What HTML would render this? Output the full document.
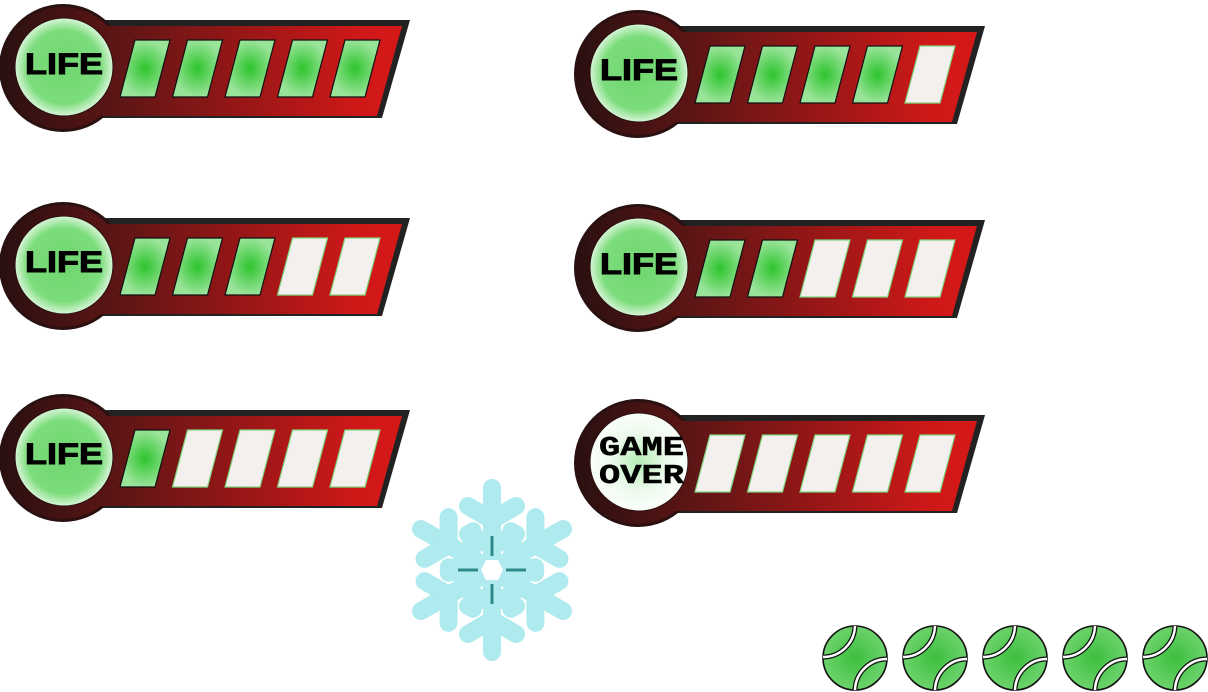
<!DOCTYPE html>
<html><head><meta charset="utf-8"><style>
html,body{margin:0;padding:0;background:#fff;width:1208px;height:692px;overflow:hidden}
svg{display:block}
</style></head><body>
<svg id="s" width="1208" height="692" viewBox="0 0 1208 692" xmlns="http://www.w3.org/2000/svg">
<defs>
<linearGradient id="band" gradientUnits="userSpaceOnUse" x1="0" x2="400" y1="0" y2="0">
<stop offset="0" stop-color="#2a1010"/><stop offset="0.3" stop-color="#5e1515"/><stop offset="0.9" stop-color="#d01818"/><stop offset="1" stop-color="#d41818"/>
</linearGradient>
<radialGradient id="lifeg"><stop offset="0" stop-color="#6fd66f"/><stop offset="0.75" stop-color="#7bdc7b"/><stop offset="1" stop-color="#d8f5d8"/></radialGradient>
<radialGradient id="overg"><stop offset="0" stop-color="#b5ecb5"/><stop offset="0.6" stop-color="#eefaee"/><stop offset="1" stop-color="#fafefa"/></radialGradient>
<radialGradient id="slotg"><stop offset="0" stop-color="#2ec42e"/><stop offset="1" stop-color="#9ae49a"/></radialGradient>
<radialGradient id="ballg" cx="0.5" cy="0.5" r="0.5"><stop offset="0" stop-color="#3cbf3c"/><stop offset="1" stop-color="#6dd36d"/></radialGradient>
</defs>
<g id="bars"></g>
<g id="snow"></g>
<g id="balls"></g>
</svg>
<script>
const lives = [5, 4, 3, 2, 1, 0];
const offsetsX = [0, 575, 0, 575, 0, 575];
const offsetsY = [0, 6, 198, 200, 390, 395];
const ballCount = 5;
const NS = "http://www.w3.org/2000/svg";
function mk(tag, attrs, parent){const e=document.createElementNS(NS,tag);for(const k in attrs)e.setAttribute(k,attrs[k]);parent.appendChild(e);return e;}
const bars=document.getElementById('bars');
lives.forEach((n,i)=>{
  const g=mk('g',{transform:`translate(${offsetsX[i]},${offsetsY[i]})`},bars);
  
  
  mk('polygon',{points:'95,20 410,20 382,118 95,118',fill:'#222'},g);
  mk('circle',{cx:63,cy:68,r:64,fill:'#2a1010'},g);
  mk('polygon',{points:'100,26 402,26 377,116 100,116',fill:'url(#band)'},g);
  mk('circle',{cx:63,cy:68,r:61,fill:'url(#band)'},g);
  mk('rect',{x:55,y:26,width:60,height:90,fill:'url(#band)'},g);
  mk('circle',{cx:64,cy:67,r:49,fill:n>0?'url(#lifeg)':'url(#overg)',stroke:'#2a1010','stroke-width':1},g);
  for(let k=0;k<5;k++){
    const x=135+k*52.5;
    const p=mk('polygon',{points:`${x},40 ${x+35},40 ${x+20},97 ${x-15},97`,fill:k<n?'url(#slotg)':'#f4f0ee',stroke:k<n?'#111':'#7fd67f','stroke-width':1.2},g);
    
    
  }
  if(n>0){
    const t=mk('text',{x:25,y:74,textLength:78,lengthAdjust:'spacingAndGlyphs','font-family':'Liberation Sans, sans-serif','font-weight':'bold','font-size':30,fill:'#000',stroke:'#000','stroke-width':1},g);
    t.textContent='LIFE';
    
    
  } else {
    ['GAME','OVER'].forEach((w,j)=>{
      const t=mk('text',{x:24,y:60+j*28,textLength:85,lengthAdjust:'spacingAndGlyphs','font-family':'Liberation Mono, monospace','font-weight':'bold','font-size':27,fill:'#000',stroke:'#000','stroke-width':0.5},g);
      t.textContent=w;
      
      
    });
  }
});
// snowflake
const sn=document.getElementById('snow');
const cx=492,cy=570;
for(let a=0;a<6;a++){
  const g=mk('g',{transform:`rotate(${a*60} ${cx} ${cy})`},sn);
  const st={stroke:'#aeeaee','stroke-width':18,'stroke-linecap':'round',fill:'none'};
  mk('line',Object.assign({x1:cx,y1:cy,x2:cx,y2:cy-82},st),g);
  mk('polyline',Object.assign({points:`${cx-24},${cy-64} ${cx},${cy-50} ${cx+24},${cy-64}`},st),g);
  mk('polyline',Object.assign({points:`${cx-24},${cy-36} ${cx},${cy-24} ${cx+24},${cy-36}`},st),g);
}
mk('polygon',{points:`${cx-6},${cy-10} ${cx+6},${cy-10} ${cx+11},${cy} ${cx+6},${cy+10} ${cx-6},${cy+10} ${cx-11},${cy}`,fill:'#fff'},sn);
[[0,-14,0,-34],[0,14,0,34],[-14,0,-34,0],[14,0,34,0]].forEach(l=>mk('line',{x1:cx+l[0],y1:cy+l[1],x2:cx+l[2],y2:cy+l[3],stroke:'#2e8a8a','stroke-width':3},sn));
// balls
const bg=document.getElementById('balls');
for(let b=0;b<ballCount;b++){
  const x=855+b*80,y=658;
  const g=mk('g',{},bg);
  
  
  mk('circle',{cx:x,cy:y,r:32,fill:'url(#ballg)',stroke:'#111','stroke-width':1.6},g);
  mk('path',{d:`M${x-32},${y-1} A32,32 0 0 0 ${x},${y-32}`,fill:'none',stroke:'#111','stroke-width':5},g);
  mk('path',{d:`M${x-32},${y-1} A32,32 0 0 0 ${x},${y-32}`,fill:'none',stroke:'#fff','stroke-width':2.5},g);
  mk('path',{d:`M${x},${y+32} A32,32 0 0 1 ${x+32},${y+1}`,fill:'none',stroke:'#111','stroke-width':5},g);
  mk('path',{d:`M${x},${y+32} A32,32 0 0 1 ${x+32},${y+1}`,fill:'none',stroke:'#fff','stroke-width':2.5},g);
}
</script>
</body></html>
